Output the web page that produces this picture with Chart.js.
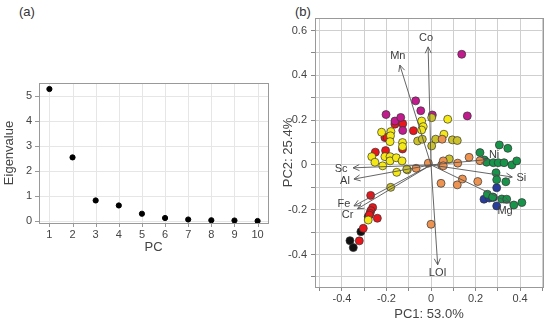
<!DOCTYPE html>
<html>
<head>
<meta charset="utf-8">
<script src="https://cdn.jsdelivr.net/npm/chart.js@4.4.1/dist/chart.umd.min.js"></script>
<style>
  body { margin: 0; background: #fff; width: 550px; height: 326px; position: relative; overflow: hidden;
         font-family: "Liberation Sans", Arial, sans-serif; }
  .wrap { position: absolute; top: 0; height: 326px; width: 280px; }
  #wrapA { left: 0; }
  #wrapB { left: 270px; }
  .tag { position: absolute; top: 4px; font-size: 13px; color: #333; }
  #strip { position: absolute; left: 0; top: 0; width: 550px; height: 2px; background: #fff; z-index: 5; }
</style>
</head>
<body>
<div class="tag" style="left:19px">(a)</div>
<div class="tag" style="left:295px">(b)</div>
<div class="wrap" id="wrapA"><canvas id="scree" width="280" height="326"></canvas></div>
<div class="wrap" id="wrapB"><canvas id="biplot" width="280" height="326"></canvas></div>
<div id="strip"></div>
<script>
// scree plot
const pcs = [1, 2, 3, 4, 5, 6, 7, 8, 9, 10];
const eigenvalues = [5.28, 2.55, 0.83, 0.63, 0.30, 0.13, 0.07, 0.04, 0.03, 0.01];
const screeYTicks = [0, 0.5, 1, 1.5, 2, 2.5, 3, 3.5, 4, 4.5, 5, 5.5];

// biplot scores, grouped by colour
const orange = [[0.05,0.115],[-0.012,0.008],[0.048,0.0],[0.055,0.018],[0.12,0.008],[0.171,0.034],[0.22,0.019],
  [-0.067,-0.015],[0.045,-0.082],[0.118,-0.089],[0.141,-0.063],[0.21,-0.074],[0.0,-0.265],[0.055,-0.004]];
const olive = [[-0.06,0.107],[-0.039,0.115],[0.021,0.115],[0.003,0.085],[0.003,0.211],[0.096,0.112],[0.118,0.109],
  [0.082,0.027],[-0.109,-0.019],[-0.181,-0.1]];
const yellow = [[-0.222,0.146],[-0.18,0.149],[-0.182,0.13],[-0.184,0.104],[-0.128,0.1],[-0.128,0.082],[-0.266,0.037],
  [-0.252,0.012],[-0.217,-0.004],[-0.207,0.037],[-0.184,0.037],[-0.184,0.018],[-0.156,0.032],[-0.13,0.018],
  [-0.154,-0.033],[-0.106,-0.022],[-0.042,0.196],[-0.035,0.171],[-0.042,0.156],[0.075,0.204],[0.058,0.137],[-0.282,-0.246]];
const magenta = [[-0.202,0.225],[-0.162,0.196],[-0.136,0.212],[-0.127,0.154],[-0.069,0.286],[-0.046,0.242],
  [0.006,0.223],[0.138,0.494],[0.163,0.219]];
const red = [[-0.162,0.182],[-0.127,0.184],[-0.079,0.153],[-0.207,0.122],[-0.197,0.122],[-0.204,0.064],[-0.128,0.071],
  [-0.25,0.057],[-0.271,-0.136],[-0.262,-0.19],[-0.27,-0.204],[-0.274,-0.216],[-0.277,-0.224],[-0.241,-0.238],
  [-0.304,-0.283],[-0.322,-0.339]];
const green = [[0.22,0.055],[0.307,0.089],[0.345,0.074],[0.24,0.022],[0.25,0.012],[0.28,0.01],[0.302,0.01],[0.328,0.01],
  [0.363,0.0],[0.385,0.018],[0.292,-0.035],[0.295,-0.066],[0.336,-0.075],[0.253,-0.131],[0.277,-0.143],[0.318,-0.152],
  [0.34,-0.153],[0.372,-0.179],[0.408,-0.168]];
const blue = [[0.295,-0.102],[0.238,-0.153],[0.262,-0.148],[0.28,-0.145],[0.295,-0.183]];
const black = [[-0.282,-0.231],[-0.315,-0.298],[-0.364,-0.338],[-0.349,-0.369]];

// loadings (arrows)
const loadingNames = ['Co', 'Mn', 'Sc', 'Al', 'Fe', 'Cr', 'LOI', 'Ni', 'Si', 'Mg'];
const loadingPC1 = [-0.013, -0.14, -0.35, -0.346, -0.346, -0.33, 0.03, 0.252, 0.365, 0.355];
const loadingPC2 = [0.527, 0.446, -0.013, -0.063, -0.183, -0.196, -0.446, 0.024, -0.054, -0.17];

const biplotTicks = [-0.5, -0.4, -0.3, -0.2, -0.1, 0, 0.1, 0.2, 0.3, 0.4, 0.5, 0.6];

// label offsets in px from arrow tip
const labelOffset = { Co: [-2, -9], Mn: [-2, -9], Sc: [-12, 1], Al: [-9, 2], Fe: [-10, -2], Cr: [-10, 6],
  LOI: [0, 8], Ni: [7, -5], Si: [9, 1], Mg: [-5, 8] };

const tickFont = () => ({ family: 'Liberation Sans', size: 11 });
const titleFont = () => ({ family: 'Liberation Sans', size: 13 });
const dotGrid = () => ({ color: '#cfcfcf', borderDash: [1, 2], tickColor: '#888', tickBorderDash: [], tickLength: 4 });
// scree grid is drawn by screeFrame below; chart.js only keeps the spacing
const hiddenGrid = () => ({ color: 'rgba(0,0,0,0)', tickColor: 'rgba(0,0,0,0)', tickLength: 4 });

// gridlines, tick marks and frame of the scree plot, as filled 1px rects
const screeFrame = {
    id: 'screeFrame',
    beforeDatasetsDraw(chart) {
        const {ctx, chartArea: a, scales: {x, y}} = chart;
        const L = Math.round(a.left), T = Math.round(a.top), R = Math.round(a.right), B = Math.round(a.bottom);
        ctx.save();
        ctx.fillStyle = '#e6e6e6';
        x.ticks.forEach(t => ctx.fillRect(Math.round(x.getPixelForValue(t.value)), T, 1, B - T));
        y.ticks.forEach(t => {
            if (Number.isInteger(t.value)) ctx.fillRect(L, Math.round(y.getPixelForValue(t.value)), R - L, 1);
        });
        ctx.fillStyle = '#999';
        x.ticks.forEach(t => ctx.fillRect(Math.round(x.getPixelForValue(t.value)), B, 1, 4));
        y.ticks.forEach(t => ctx.fillRect(L - 4, Math.round(y.getPixelForValue(t.value)), 4, 1));
        ctx.restore();
    },
    afterDraw(chart) {
        const {ctx, chartArea: a} = chart;
        const L = Math.round(a.left), T = Math.round(a.top), R = Math.round(a.right), B = Math.round(a.bottom);
        ctx.save();
        ctx.fillStyle = '#999';
        ctx.fillRect(L, T, R - L + 1, 1);
        ctx.fillRect(L, B, R - L + 1, 1);
        ctx.fillRect(L, T, 1, B - T + 1);
        ctx.fillRect(R, T, 1, B - T + 1);
        ctx.restore();
        ctx.getImageData(0, 0, 1, 1);
    }
};

const boxPlugin = {
    id: 'box',
    afterDraw(chart) {
        const a = chart.chartArea, ctx = chart.ctx;
        ctx.save();
        ctx.setLineDash([]);
        ctx.strokeStyle = '#999';
        ctx.lineWidth = 1;
        ctx.strokeRect(Math.round(a.left) + 0.5, Math.round(a.top) + 0.5,
                       Math.round(a.right - a.left), Math.round(a.bottom - a.top));
        ctx.restore();
    }
};

const arrowPlugin = {
    id: 'loadings',
    afterDatasetsDraw(chart) {
        const {ctx, scales: {x, y}} = chart;
        const x0 = x.getPixelForValue(0), y0 = y.getPixelForValue(0);
        ctx.save();
        ctx.strokeStyle = '#555';
        ctx.lineWidth = 0.9;
        ctx.fillStyle = '#3c3c3c';
        ctx.font = '11px "Liberation Sans"';
        ctx.textAlign = 'center';
        ctx.textBaseline = 'middle';
        loadingNames.forEach((name, i) => {
            const x1 = x.getPixelForValue(loadingPC1[i]);
            const y1 = y.getPixelForValue(loadingPC2[i]);
            const a = Math.atan2(y1 - y0, x1 - x0);
            ctx.beginPath();
            ctx.moveTo(x0, y0);
            ctx.lineTo(x1, y1);
            ctx.moveTo(x1 - 7 * Math.cos(a - 0.45), y1 - 7 * Math.sin(a - 0.45));
            ctx.lineTo(x1, y1);
            ctx.lineTo(x1 - 7 * Math.cos(a + 0.45), y1 - 7 * Math.sin(a + 0.45));
            ctx.stroke();
            const off = labelOffset[name];
            ctx.fillText(name, x1 + off[0], y1 + off[1]);
        });
        ctx.restore();
    }
};

function group(pts, color) {
    return {
        data: pts.map(p => ({x: p[0], y: p[1]})),
        backgroundColor: color,
        borderColor: '#333',
        borderWidth: 0.7,
        pointRadius: 4,
        pointHoverRadius: 4
    };
}

new Chart(document.getElementById('scree'), {
    type: 'scatter',
    data: {
        datasets: [{
            data: pcs.map((pc, i) => ({x: pc, y: eigenvalues[i]})),
            backgroundColor: '#000',
            borderColor: '#000',
            pointRadius: 2.6
        }]
    },
    options: {
        responsive: false,
        animation: false,
        layout: { padding: { left: 0, right: 12, top: 83, bottom: 68 } },
        plugins: { legend: { display: false }, tooltip: { enabled: false } },
        scales: {
            x: {
                min: 0.55, max: 10.45,
                afterBuildTicks: s => { s.ticks = pcs.map(v => ({value: v})); },
                afterFit: s => { s.height = 35; },
                grid: hiddenGrid(),
                border: { display: false },
                ticks: { font: tickFont(), color: '#444', padding: 1, maxRotation: 0 },
                title: { display: true, text: 'PC', font: titleFont(), color: '#444', padding: { bottom: 3 } }
            },
            y: {
                min: -0.07, max: 5.52,
                afterBuildTicks: s => { s.ticks = screeYTicks.map(v => ({value: v})); },
                afterFit: s => { s.width = 39; },
                grid: hiddenGrid(),
                border: { display: false },
                ticks: { font: tickFont(), color: '#444', padding: 3,
                         callback: v => Number.isInteger(v) ? String(v) : '' },
                title: { display: true, text: 'Eigenvalue', font: titleFont(), color: '#444', padding: { top: 2 } }
            }
        }
    },
    plugins: [screeFrame]
});

const fmt = v => {
    const k = Math.round(v * 10);
    if (k % 2 !== 0) return '';
    return k === 0 ? '0' : (k / 10).toFixed(1);
};

new Chart(document.getElementById('biplot'), {
    type: 'scatter',
    data: {
        datasets: [
            group(orange, '#ec9352'),
            group(olive, '#cbc12c'),
            group(yellow, '#f4e816'),
            group(magenta, '#c11b8e'),
            group(red, '#e8171c'),
            group(green, '#17934a'),
            group(blue, '#283c9c'),
            group(black, '#111')
        ]
    },
    options: {
        responsive: false,
        animation: false,
        layout: { padding: { left: 0, right: 7, top: 18, bottom: 0 } },
        plugins: { legend: { display: false }, tooltip: { enabled: false } },
        scales: {
            x: {
                min: -0.521, max: 0.503,
                afterBuildTicks: s => { s.ticks = biplotTicks.filter(v => v < 0.503).map(v => ({value: v})); },
                afterFit: s => { s.height = 39; },
                grid: dotGrid(),
                border: { display: false },
                ticks: { font: tickFont(), color: '#444', padding: 1, maxRotation: 0, callback: fmt },
                title: { display: true, text: 'PC1: 53.0%', font: titleFont(), color: '#444', padding: { bottom: 4 } }
            },
            y: {
                min: -0.545, max: 0.656,
                afterBuildTicks: s => { s.ticks = biplotTicks.map(v => ({value: v})); },
                afterFit: s => { s.width = 45; },
                grid: dotGrid(),
                border: { display: false },
                ticks: { font: tickFont(), color: '#444', padding: 4, callback: fmt },
                title: { display: true, text: 'PC2: 25.4%', font: titleFont(), color: '#444', padding: { top: 11 } }
            }
        }
    },
    plugins: [arrowPlugin, boxPlugin]
});
</script>
</body>
</html>
